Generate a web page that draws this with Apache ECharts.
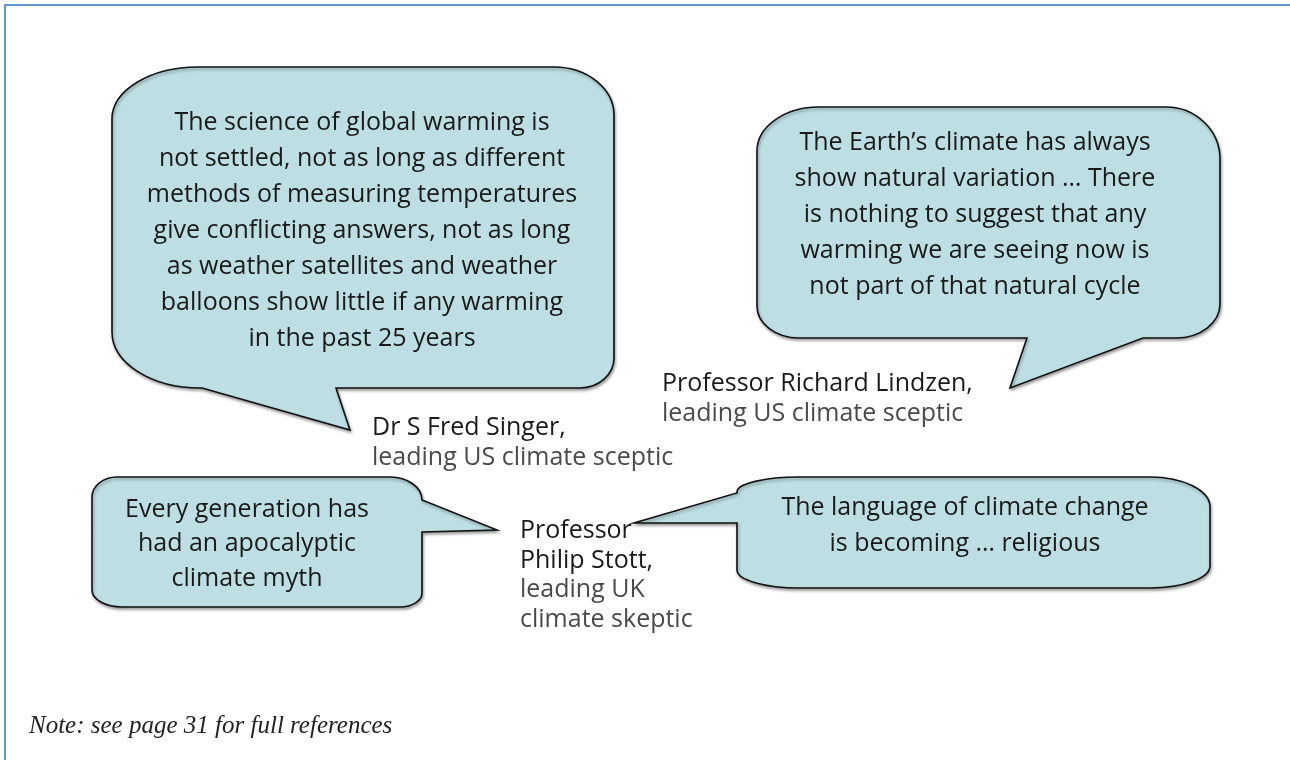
<!DOCTYPE html>
<html>
<head>
<meta charset="utf-8">
<title>Climate sceptic quotes</title>
<script src="https://cdn.jsdelivr.net/npm/echarts@6/dist/echarts.min.js"></script>
<style>
  html, body { margin: 0; padding: 0; background: #fff; }
  #chart { width: 1290px; height: 760px; }
</style>
</head>
<body>
<div id="chart"></div>
<script>
// quote text, one list of lines per bubble
const quoteLines = [
  ['The science of global warming is', 'not settled, not as long as different', 'methods of measuring temperatures',
   'give conflicting answers, not as long', 'as weather satellites and weather', 'balloons show little if any warming',
   'in the past 25 years'],
  ['The Earth\u2019s climate has always', 'show natural variation \u2026 There', 'is nothing to suggest that any',
   'warming we are seeing now is', 'not part of that natural cycle'],
  ['Every generation has', 'had an apocalyptic', 'climate myth'],
  ['The language of climate change', 'is becoming \u2026 religious']
]

// who said it (name lines first, then affiliation)
const speakerLines = [
  ['Dr S Fred Singer,', 'leading US climate sceptic'],
  ['Professor Richard Lindzen,', 'leading US climate sceptic'],
  ['Professor', 'Philip Stott,', 'leading UK', 'climate skeptic']
]
const speakerNameCount = [1, 1, 2]

// bubble outlines in page units: [left, top, right, bottom]
const bubbleBoxes = [
  [112, 67, 614, 388],
  [757, 107, 1220, 338],
  [92, 477, 422, 607],
  [737, 477, 1210, 588]
]
// corner radii [rx, ry]: top-left, top-right, bottom-right, bottom-left
const bubbleCorners = [
  [[86, 52], [60, 48], [34, 30], [88, 56]],
  [[62, 44], [54, 52], [44, 34], [42, 32]],
  [[25, 20], [32, 23], [22, 14], [30, 17]],
  [[62, 15], [60, 30], [60, 22], [62, 18]]
]
// tail: side, then base point, tip, base point (clockwise order)
const bubbleTails = [
  ['bottom', [336, 388], [350, 430], [202, 388]],
  ['bottom', [1143, 338], [1010, 388], [1027, 338]],
  ['right', [422, 500], [497, 530], [422, 532]],
  ['left', [737, 523], [634, 523], [737, 493]]
]

// text anchors (centre of each quote block, first caption line)
const quoteAnchors = [[362, 231], [975, 215], [247, 544], [965, 526]]
const speakerAnchors = [[372, 428], [662, 384], [520, 531]]

const noteText = 'Note: see page 31 for full references'

const K = 0.5523

// build the outline of one bubble in pixels
const bubblePath = (api, i) => {
  const [x0, y0, x1, y1] = bubbleBoxes[i]
  const [tl, tr, br, bl] = bubbleCorners[i]
  const tail = bubbleTails[i]
  const parts = []
  const pt = (x, y) => {
    const p = api.coord([x, y])
    return p[0].toFixed(2) + ' ' + p[1].toFixed(2)
  }
  const M = (x, y) => parts.push('M ' + pt(x, y))
  const L = (x, y) => parts.push('L ' + pt(x, y))
  const C = (a, b, c, d, e, f) => parts.push('C ' + pt(a, b) + ' ' + pt(c, d) + ' ' + pt(e, f))
  const addTail = (side) => {
    if (tail[0] !== side) return
    for (let j = 1; j < 4; j++) L(tail[j][0], tail[j][1])
  }

  M(x0 + tl[0], y0)
  addTail('top')
  L(x1 - tr[0], y0)
  C(x1 - tr[0] + K * tr[0], y0, x1, y0 + tr[1] - K * tr[1], x1, y0 + tr[1])
  addTail('right')
  L(x1, y1 - br[1])
  C(x1, y1 - br[1] + K * br[1], x1 - br[0] + K * br[0], y1, x1 - br[0], y1)
  addTail('bottom')
  L(x0 + bl[0], y1)
  C(x0 + bl[0] - K * bl[0], y1, x0, y1 - bl[1] + K * bl[1], x0, y1 - bl[1])
  addTail('left')
  L(x0, y0 + tl[1])
  C(x0, y0 + tl[1] - K * tl[1], x0 + tl[0] - K * tl[0], y0, x0 + tl[0], y0)
  parts.push('Z')
  return parts.join(' ')
}

const textFont = '25px "Open Sans", "Noto Sans", sans-serif'
const quoteLineHeight = [36, 36, 34.5, 36]

const renderBubble = (params, api) => {
  const i = params.dataIndex
  const lines = quoteLines[i]
  const c = api.coord([api.value(0), api.value(1)])
  const lh = quoteLineHeight[i]
  const children = [{
    type: 'path',
    shape: { pathData: bubblePath(api, i) },
    style: {
      fill: '#bddfe3',
      stroke: '#111',
      lineWidth: 1.6,
      shadowBlur: 3,
      shadowOffsetX: 1,
      shadowOffsetY: 2,
      shadowColor: 'rgba(0,0,0,0.35)'
    }
  }]
  lines.forEach((line, j) => {
    children.push({
      type: 'text',
      x: c[0],
      y: c[1] + (j - (lines.length - 1) / 2) * lh,
      style: {
        text: line,
        font: textFont,
        fill: '#1a1a1a',
        align: 'center',
        verticalAlign: 'middle'
      }
    })
  })
  return { type: 'group', children }
}

const renderSpeaker = (params, api) => {
  const i = params.dataIndex
  const c = api.coord([api.value(0), api.value(1)])
  return {
    type: 'group',
    children: speakerLines[i].map((line, j) => ({
      type: 'text',
      x: c[0],
      y: c[1] + j * 29.5,
      style: {
        text: line,
        font: textFont,
        fill: j < speakerNameCount[i] ? '#1a1a1a' : '#4a4a4a',
        align: 'left',
        verticalAlign: 'middle'
      }
    }))
  }
}

const chart = echarts.init(document.getElementById('chart'))

const option = {
  animation: false,
  backgroundColor: '#fff',
  title: {
    text: noteText,
    left: 24,
    top: 709,
    textStyle: {
      fontFamily: '"Liberation Serif", serif',
      fontStyle: 'italic',
      fontWeight: 'normal',
      fontSize: 25,
      color: '#222'
    }
  },
  grid: { left: 5, top: 5, right: 0, bottom: 0 },
  xAxis: {
    type: 'value',
    position: 'top',
    min: 5,
    max: 1290,
    axisLine: { show: true, onZero: false, lineStyle: { color: '#5f9bd0', width: 2 } },
    axisTick: { show: false },
    axisLabel: { show: false },
    splitLine: { show: false }
  },
  yAxis: {
    type: 'value',
    inverse: true,
    min: 5,
    max: 760,
    axisLine: { show: true, onZero: false, lineStyle: { color: '#5f9bd0', width: 2 } },
    axisTick: { show: false },
    axisLabel: { show: false },
    splitLine: { show: false }
  },
  series: [
    {
      type: 'custom',
      name: 'quotes',
      silent: true,
      clip: false,
      renderItem: renderBubble,
      data: quoteAnchors
    },
    {
      type: 'custom',
      name: 'speakers',
      silent: true,
      clip: false,
      renderItem: renderSpeaker,
      data: speakerAnchors
    }
  ]
}

chart.setOption(option)
</script>
</body>
</html>
